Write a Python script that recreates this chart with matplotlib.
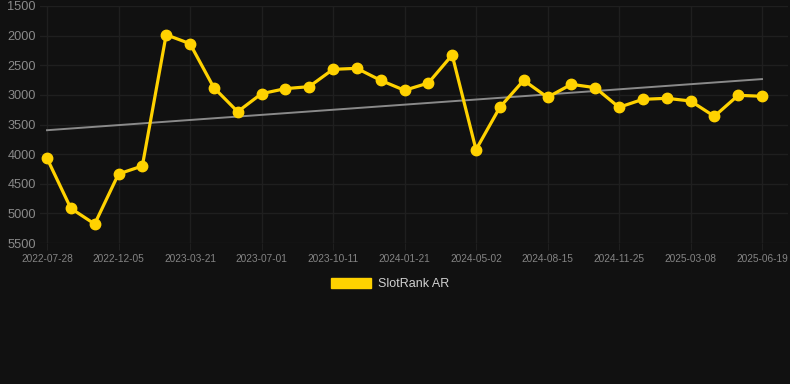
import matplotlib
matplotlib.use("Agg")
import matplotlib.pyplot as plt
import numpy as np

tick_labels = ["2022-07-28", "2022-12-05", "2023-03-21", "2023-07-01", "2023-10-11",
               "2024-01-21", "2024-05-02", "2024-08-15", "2024-11-25", "2025-03-08", "2025-06-19"]
rank_values = [4070, 4915, 5180, 4335, 4200, 1985, 2136, 2878, 3284, 2980,
               2895, 2861, 2569, 2552, 2755, 2923, 2800, 2327, 3925, 3210,
               2755, 3041, 2822, 2878, 3210, 3075, 3058, 3103, 3362, 3007, 3024]
series_name = "SlotRank AR"

BG = "#111111"
GRID = "#1f1f1f"
YELLOW = "#FFD200"

W, H = 790, 384
fig = plt.figure(figsize=(W / 100, H / 100), dpi=100, facecolor=BG)
ax = fig.add_axes([40 / W, 1 - 243 / H, (788 - 40) / W, (243 - 6) / H], facecolor=BG)

x = np.arange(len(rank_values))
y = np.array(rank_values, dtype=float)

# trend line (linear regression)
coef = np.polyfit(x, y, 1)
ax.plot([x[0], x[-1]], np.polyval(coef, [x[0], x[-1]]), color="#8a8a8a", lw=1.4, zorder=2)

ax.plot(x, y, color=YELLOW, lw=2.3, marker="o", markersize=7.5,
        markerfacecolor=YELLOW, markeredgecolor=YELLOW, zorder=3, label=series_name)

ax.set_ylim(5500, 1500)
ax.set_yticks(np.arange(1500, 5501, 500))
px_per = (762 - 47) / 30
ax.set_xlim(-(47 - 40) / px_per, (788 - 47) / px_per)
ax.set_xticks(np.arange(0, len(rank_values), 3))
ax.set_xticklabels(tick_labels)

for s in ax.spines.values():
    s.set_visible(False)
ax.grid(True, color=GRID, lw=1)
ax.set_axisbelow(True)
ax.tick_params(axis="y", length=0, pad=3, labelsize=9.2, labelcolor="#8a8a8a")
ax.tick_params(axis="x", length=5, color=GRID, pad=3, labelsize=7.3, labelcolor="#848484")
for lab in ax.get_xticklabels() + ax.get_yticklabels():
    lab.set_fontfamily("Liberation Sans")

leg = fig.legend(handles=[plt.Rectangle((0, 0), 1, 1, color=YELLOW)], labels=[series_name],
                 loc="center", bbox_to_anchor=(390 / W, 1 - 284 / H), frameon=False,
                 handlelength=3.2, handleheight=0.9, handletextpad=0.5,
                 prop={"family": "Liberation Sans", "size": 9})
for t in leg.get_texts():
    t.set_color("#d0d0d0")

fig.savefig("out.png", dpi=100, facecolor=BG)
